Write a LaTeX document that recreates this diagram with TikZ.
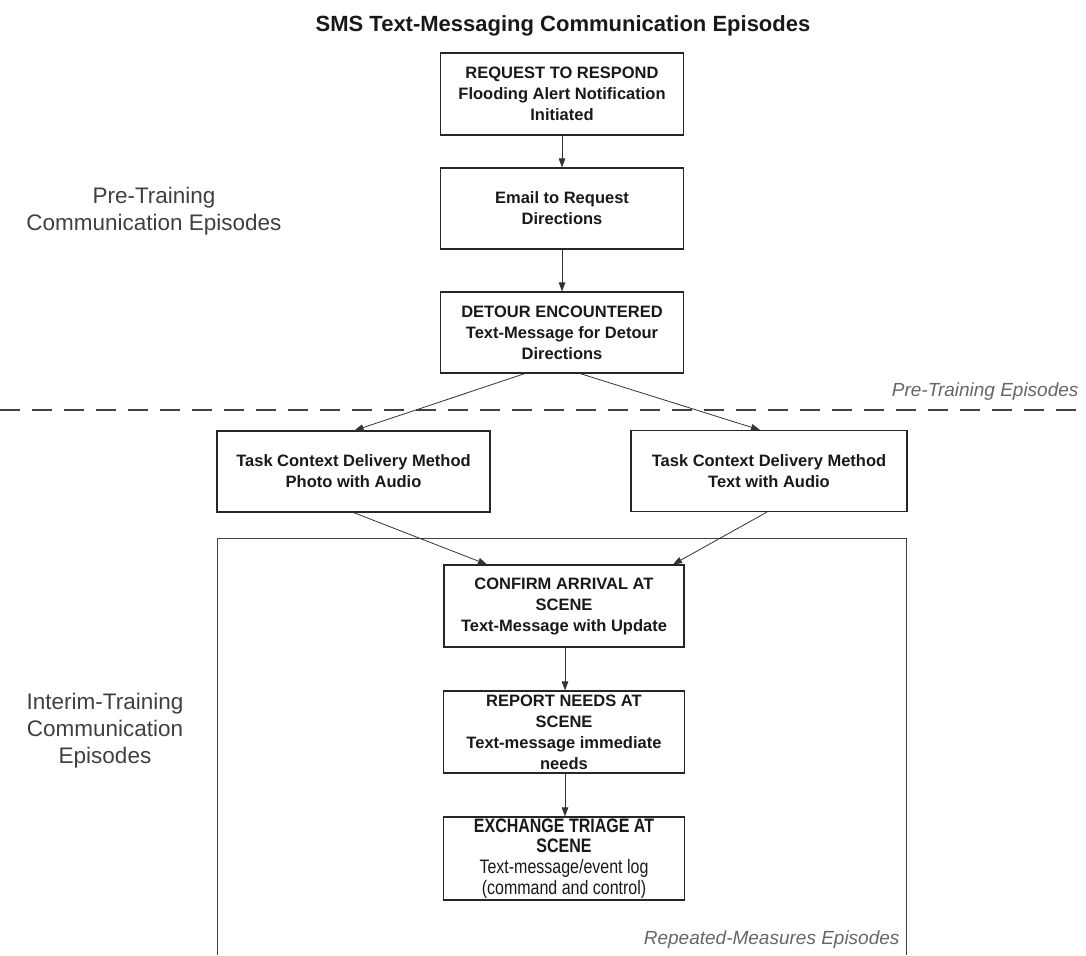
\documentclass[tikz,border=0pt]{standalone}
\usepackage{fontspec}
\setmainfont{Liberation Sans}
\newfontfamily\narrowfont[FakeStretch=0.82]{Liberation Sans}
\usetikzlibrary{arrows.meta,calc}
\begin{document}
\begin{tikzpicture}[x=1pt,y=-1pt,
  box/.style={draw=black!85, line width=1.1pt, align=center, inner sep=0pt,
    text=black!90, font=\bfseries\fontsize{16.5}{21}\selectfont},
  narrowbox/.style={draw=black!85, line width=1.1pt, align=center, inner sep=0pt,
    text=black!90, font=\narrowfont\fontsize{19.5}{20.7}\selectfont},
  conn/.style={draw=black!80, line width=0.8pt, -{Triangle[length=9pt,width=6.5pt]}},
  sidelabel/.style={align=center, text=black!75, font=\fontsize{22.5}{27}\selectfont},
  region/.style={text=black!60, font=\itshape\fontsize{19}{23}\selectfont},
  titlestyle/.style={text=black!90, font=\bfseries\fontsize{22}{26}\selectfont},
  frame/.style={draw=black!75, line width=1pt},
  dashline/.style={draw=black!75, line width=1.4pt, dash pattern=on 20pt off 12pt}]
\useasboundingbox (0,0) rectangle (1086,955);

\node[titlestyle] (title) at (563,26) {SMS Text-Messaging Communication Episodes};

\node[box, minimum width=243pt, minimum height=82pt] (b1) at (562,94)
  {REQUEST TO RESPOND\\Flooding Alert Notification\\Initiated};
\node[box, minimum width=243pt, minimum height=81pt] (b2) at (562,208.5)
  {Email to Request\\Directions};
\node[box, minimum width=243pt, minimum height=81pt] (b3) at (562,332.5)
  {DETOUR ENCOUNTERED\\Text-Message for Detour\\Directions};

\node[box, minimum width=273pt, minimum height=81pt] (b4) at (353.5,471.5)
  {Task Context Delivery Method\\Photo with Audio};
\node[box, minimum width=276pt, minimum height=81pt] (b5) at (769,471)
  {Task Context Delivery Method\\Text with Audio};

\node[box, minimum width=240pt, minimum height=82pt] (b6) at (564,606)
  {CONFIRM ARRIVAL AT\\SCENE\\Text-Message with Update};
\node[box, minimum width=241pt, minimum height=82pt] (b7) at (564,732)
  {REPORT NEEDS AT\\SCENE\\Text-message immediate\\needs};
\node[narrowbox, minimum width=241pt, minimum height=83pt] (b8) at (564,858.5)
  {\textbf{EXCHANGE TRIAGE AT}\\\textbf{SCENE}\\Text-message/event log\\(command and control)};

% region frame and separator
\draw[frame] (217,955) -- (217,538) -- (906,538) -- (906,955);
\coordinate (dl) at (0,410);
\coordinate (dr) at (1086,410);
\draw[dashline] (dl) -- (dr);

\node[region, anchor=east] (prelab) at (1082,392) {Pre-Training Episodes};
\node[region, anchor=east] (replab) at (903,940) {Repeated-Measures Episodes};

\node[sidelabel] (pre) at (154,211) {Pre-Training\\Communication Episodes};
\node[sidelabel] (interim) at (105,731) {Interim-Training\\Communication\\Episodes};

% connectors
\draw[conn] (b1.south) -- (b2.north);
\draw[conn] (b2.south) -- (b3.north);
\draw[conn] ([xshift=-37pt]b3.south) -- ([xshift=1pt]b4.north);
\draw[conn] ([xshift=18pt]b3.south) -- ([xshift=-9pt]b5.north);
\draw[conn] (b4.south) -- ([xshift=-77pt]b6.north);
\draw[conn] ([xshift=-2pt]b5.south) -- ([xshift=109pt]b6.north);
\draw[conn] ([xshift=1pt]b6.south) -- ([xshift=1pt]b7.north);
\draw[conn] ([xshift=1pt]b7.south) -- ([xshift=1pt]b8.north);
\end{tikzpicture}
\end{document}
